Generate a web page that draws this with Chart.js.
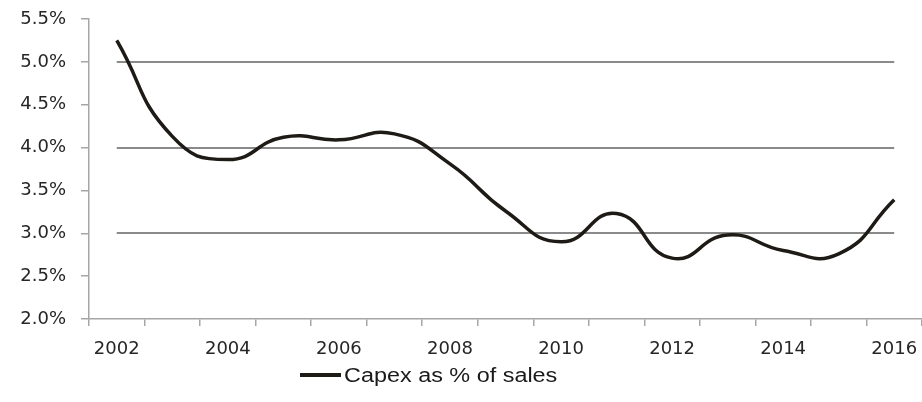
<!DOCTYPE html>
<html>
<head>
<meta charset="utf-8">
<script src="https://cdn.jsdelivr.net/npm/chart.js@4.4.1/dist/chart.umd.min.js"></script>
<style>
  html, body { margin: 0; padding: 0; background: #ffffff; }
  #wrap { position: relative; width: 922px; height: 402px; }
  #legend { position: absolute; left: 300px; top: 362px; height: 26px; display: flex; align-items: center; white-space: nowrap; }
  #legend .swatch { display: inline-block; width: 41px; height: 4px; background: #1e1a15; margin-right: 3px; }
  #legend .txt { font-family: "Liberation Sans", Arial, sans-serif; font-size: 20px; color: #1a1a1a; display: inline-block; transform: scaleX(1.17); transform-origin: left center; }
</style>
</head>
<body>
<div id="wrap">
  <canvas id="c" width="922" height="402"></canvas>
  <div id="legend"><span class="swatch"></span><span class="txt">Capex as % of sales</span></div>
</div>
<script>
const years = ["2002","2003","2004","2005","2006","2007","2008","2009","2010","2011","2012","2013","2014","2015","2016"];
const capexPct = [5.25, 4.13, 3.86, 4.12, 4.09, 4.16, 3.81, 3.26, 2.90, 3.23, 2.71, 2.98, 2.80, 2.76, 3.39];
const seriesName = "Capex as % of sales";
const yMin = 2.0, yMax = 5.5, yStep = 0.5;
const gridValues = [3.0, 4.0, 5.0];

const partialGrid = {
  id: 'partialGrid',
  beforeDatasetsDraw(chart) {
    const ctx = chart.ctx, xs = chart.scales.x, ys = chart.scales.y;
    const x0 = xs.getPixelForValue(0), x1 = xs.getPixelForValue(years.length - 1);
    ctx.save();
    ctx.strokeStyle = '#8a8a8a';
    ctx.lineWidth = 2;
    gridValues.forEach(v => {
      const y = Math.round(ys.getPixelForValue(v));
      ctx.beginPath(); ctx.moveTo(x0, y); ctx.lineTo(x1, y); ctx.stroke();
    });
    ctx.restore();
  }
};

new Chart(document.getElementById('c'), {
  type: 'line',
  data: {
    labels: years,
    datasets: [{
      label: seriesName,
      data: capexPct,
      borderColor: '#1e1a15',
      borderWidth: 3.5,
      pointRadius: 0,
      tension: 0.5,
      fill: false
    }]
  },
  options: {
    responsive: false,
    animation: false,
    layout: { padding: { top: 19, right: 0, bottom: 0, left: 0 } },
    plugins: { legend: { display: false }, tooltip: { enabled: false } },
    scales: {
      x: {
        offset: true,
        afterFit(s) { s.height = 83; s.paddingLeft = 0; s.paddingRight = 0; },
        grid: { display: true, drawOnChartArea: false, drawTicks: true, tickLength: 7, offset: true, color: '#a6a6a6', lineWidth: 1.5 },
        border: { display: true, color: '#a6a6a6', width: 1.5 },
        ticks: {
          autoSkip: false, maxRotation: 0, padding: 13,
          color: '#262626',
          font: { family: '"DejaVu Sans", Verdana, sans-serif', size: 18 },
          callback(v, i) { return i % 2 === 0 ? years[i] : ''; }
        }
      },
      y: {
        min: yMin, max: yMax,
        afterFit(s) { s.width = 89; s.paddingTop = 0; s.paddingBottom = 0; },
        grid: { display: true, drawOnChartArea: false, drawTicks: true, tickLength: 8, color: '#a6a6a6', lineWidth: 1.5 },
        border: { display: true, color: '#a6a6a6', width: 1.5 },
        ticks: {
          stepSize: yStep, padding: 15,
          color: '#262626',
          font: { family: '"DejaVu Sans", Verdana, sans-serif', size: 18 },
          callback(v) { return v.toFixed(1) + '%'; }
        }
      }
    }
  },
  plugins: [partialGrid]
});
</script>
</body>
</html>
